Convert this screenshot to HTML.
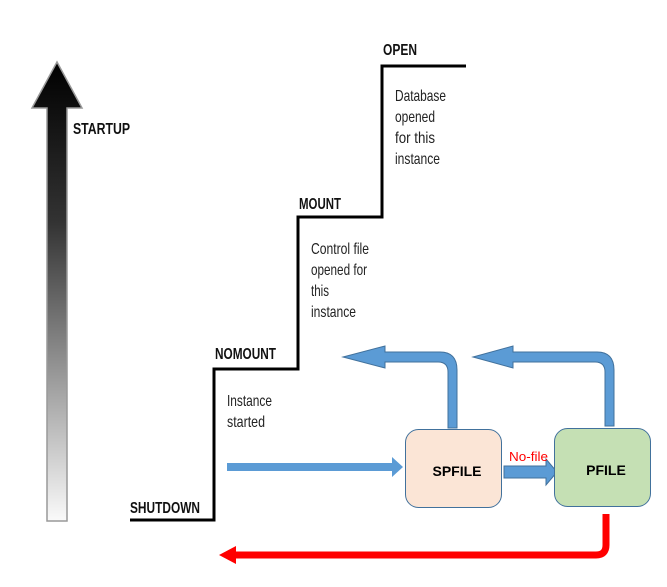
<!DOCTYPE html>
<html><head><meta charset="utf-8"><style>
html,body{margin:0;padding:0;background:#fff;}
svg{display:block;}
.b{font-family:"Liberation Sans",sans-serif;font-weight:bold;font-size:16px;fill:#111;}
.n{font-family:"Liberation Sans",sans-serif;font-size:16px;fill:#222;}
.c{font-family:"Liberation Sans","DejaVu Sans",sans-serif;font-weight:bold;font-size:14px;fill:#000;}
</style></head><body>
<svg width="667" height="587" viewBox="0 0 667 587" xmlns="http://www.w3.org/2000/svg">
<defs>
<linearGradient id="g" x1="0" y1="0" x2="0" y2="1">
<stop offset="0" stop-color="#000"/><stop offset="0.35" stop-color="#333"/><stop offset="1" stop-color="#fafafa"/>
</linearGradient>
</defs>
<path d="M47,521 L47,108 L32,108 L57,62 L82,108 L67,108 L67,521 Z" fill="url(#g)" stroke="#999" stroke-width="1.5"/>
<text class="b" x="73" y="134" textLength="57" lengthAdjust="spacingAndGlyphs">STARTUP</text>
<path d="M130,520 L214,520 L214,369 L298,369 L298,217 L382,217 L382,66 L466,66" fill="none" stroke="#000" stroke-width="3"/>
<text class="b" x="130" y="513" textLength="70" lengthAdjust="spacingAndGlyphs">SHUTDOWN</text>
<text class="b" x="215" y="359" textLength="61" lengthAdjust="spacingAndGlyphs">NOMOUNT</text>
<text class="b" x="299" y="209" textLength="42" lengthAdjust="spacingAndGlyphs">MOUNT</text>
<text class="b" x="383" y="55" textLength="34" lengthAdjust="spacingAndGlyphs">OPEN</text>
<text class="n" x="227" y="406" textLength="45" lengthAdjust="spacingAndGlyphs">Instance</text>
<text class="n" x="227" y="427" textLength="38" lengthAdjust="spacingAndGlyphs">started</text>
<text class="n" x="311" y="254" textLength="58" lengthAdjust="spacingAndGlyphs">Control file</text>
<text class="n" x="311" y="275" textLength="56" lengthAdjust="spacingAndGlyphs">opened for</text>
<text class="n" x="311" y="296" textLength="18" lengthAdjust="spacingAndGlyphs">this</text>
<text class="n" x="311" y="317" textLength="45" lengthAdjust="spacingAndGlyphs">instance</text>
<text class="n" x="395" y="101" textLength="51" lengthAdjust="spacingAndGlyphs">Database</text>
<text class="n" x="395" y="122" textLength="40" lengthAdjust="spacingAndGlyphs">opened</text>
<text class="n" x="395" y="143" textLength="40" lengthAdjust="spacingAndGlyphs">for this</text>
<text class="n" x="395" y="164" textLength="45" lengthAdjust="spacingAndGlyphs">instance</text>
<path d="M448,428 L448,372 Q448,362 438,362 L385,362 L385,368 L343,357 L385,346 L385,352 L440,352 Q457,352 457,370 L457,428 Z" fill="#5b9bd5" stroke="#41719c" stroke-width="1"/>
<path d="M605,426 L605,372 Q605,362 595,362 L513,362 L513,368 L473,357 L513,346 L513,352 L597,352 Q614,352 614,370 L614,426 Z" fill="#5b9bd5" stroke="#41719c" stroke-width="1"/>
<path d="M227,463 L392,463 L392,457 L403,467 L392,477 L392,471 L227,471 Z" fill="#5b9bd5"/>
<path d="M504,466 L546,466 L546,459 L557,472 L546,485 L546,478 L504,478 Z" fill="#5b9bd5" stroke="#41719c" stroke-width="1"/>
<rect x="405.5" y="429.5" width="96" height="78" rx="13" fill="#fbe5d6" stroke="#41719c" stroke-width="1"/>
<text class="c" x="457" y="476" text-anchor="middle">SPFILE</text>
<rect x="554.5" y="428.5" width="96" height="78" rx="13" fill="#c5e0b4" stroke="#41719c" stroke-width="1"/>
<text class="c" x="606" y="475" text-anchor="middle">PFILE</text>
<text x="509" y="461" font-family="Liberation Sans,sans-serif" font-size="13" fill="#ff0000" textLength="39" lengthAdjust="spacingAndGlyphs">No-file</text>
<path d="M606,514 L606,545 Q606,555 596,555 L232,555" fill="none" stroke="#ff0000" stroke-width="7"/>
<path d="M219,555 L236,546 L236,564 Z" fill="#ff0000"/>
</svg>
</body></html>
